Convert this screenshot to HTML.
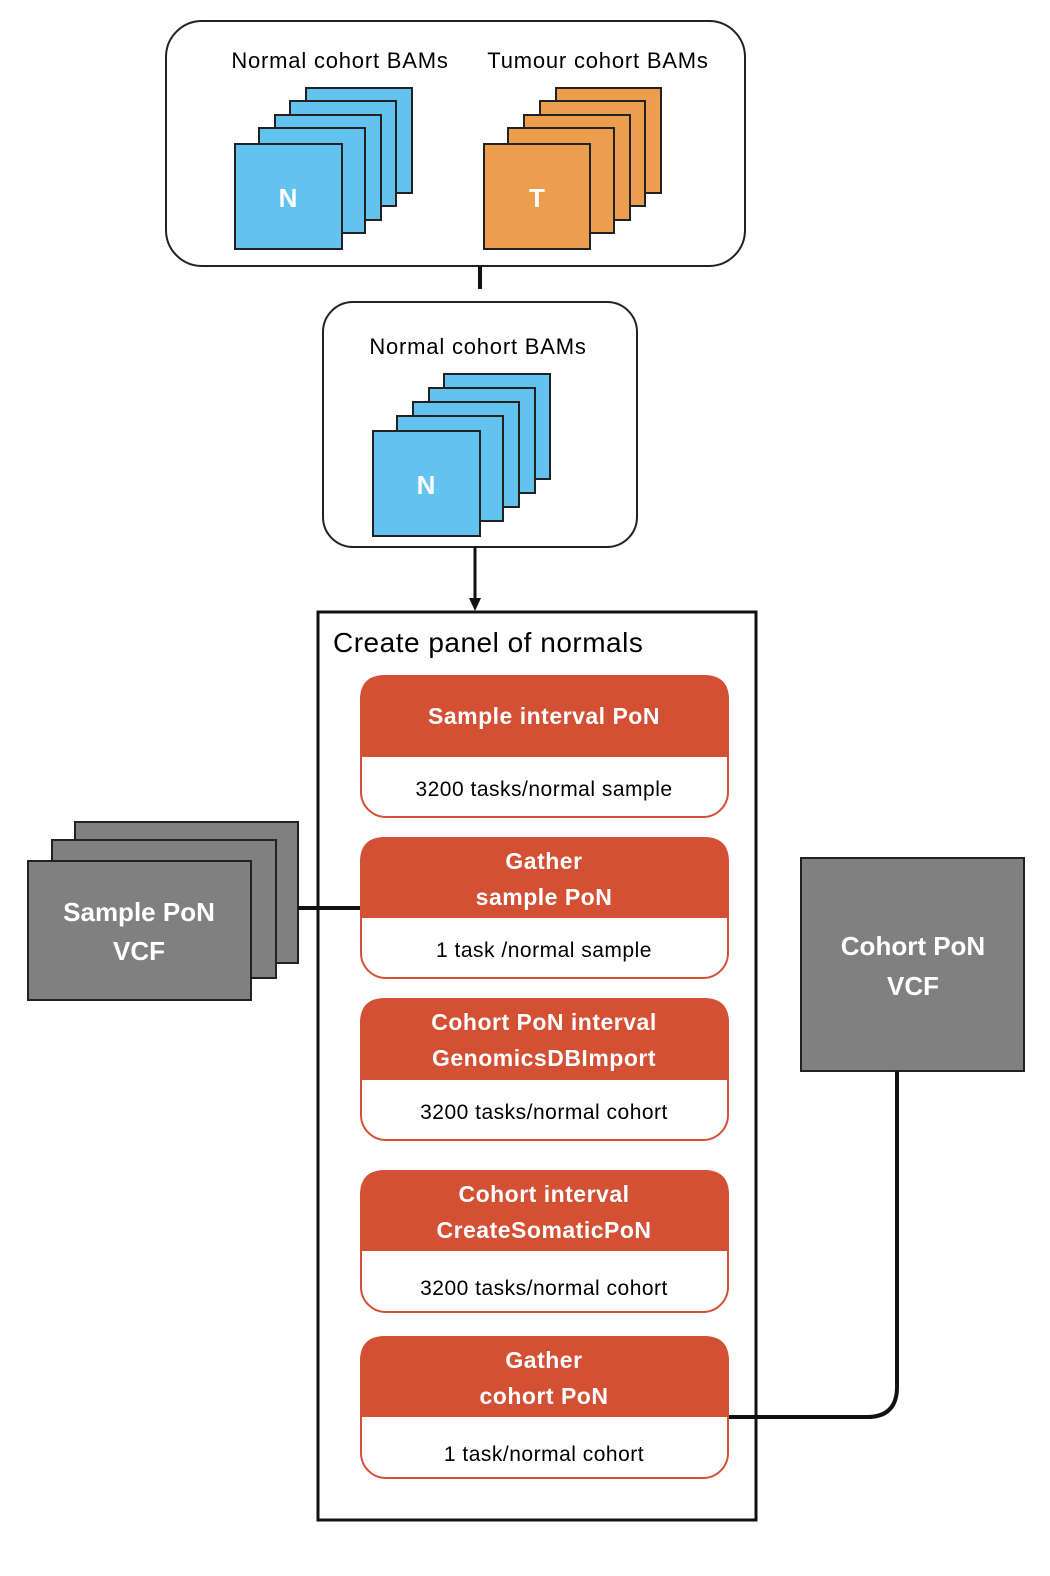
<!DOCTYPE html>
<html><head><style>body{margin:0;background:#fff}svg{display:block}text{font-family:"Liberation Sans",sans-serif}</style></head><body>
<svg width="1050" height="1576" viewBox="0 0 1050 1576" xmlns="http://www.w3.org/2000/svg">
<rect x="166" y="21" width="579" height="245" rx="36" fill="#fff" stroke="#222" stroke-width="2"/>
<text x="340" y="68" font-size="22" letter-spacing="0.8" text-anchor="middle">Normal cohort BAMs</text>
<text x="598" y="68" font-size="22" letter-spacing="0.8" text-anchor="middle">Tumour cohort BAMs</text>
<g fill="#63c3ee" stroke="#222" stroke-width="2">
<rect x="306" y="88" width="106" height="105"/><rect x="290" y="101" width="106" height="105"/><rect x="275" y="115" width="106" height="105"/><rect x="259" y="128" width="106" height="105"/><rect x="235" y="144" width="107" height="105"/>
</g>
<g fill="#eb9f4e" stroke="#222" stroke-width="2">
<rect x="556" y="88" width="105" height="105"/><rect x="540" y="101" width="105" height="105"/><rect x="524" y="115" width="106" height="105"/><rect x="508" y="128" width="106" height="105"/><rect x="484" y="144" width="106" height="105"/>
</g>
<text x="288" y="207" font-size="26" font-weight="bold" fill="#fff" text-anchor="middle">N</text>
<text x="537" y="207" font-size="26" font-weight="bold" fill="#fff" text-anchor="middle">T</text>
<line x1="480" y1="266" x2="480" y2="289" stroke="#111" stroke-width="4"/>
<rect x="323" y="302" width="314" height="245" rx="30" fill="#fff" stroke="#222" stroke-width="2"/>
<text x="478" y="354" font-size="22" letter-spacing="0.8" text-anchor="middle">Normal cohort BAMs</text>
<g fill="#63c3ee" stroke="#222" stroke-width="2">
<rect x="444" y="374" width="106" height="105"/><rect x="429" y="388" width="106" height="105"/><rect x="413" y="402" width="106" height="105"/><rect x="397" y="416" width="106" height="105"/><rect x="373" y="431" width="107" height="105"/>
</g>
<text x="426" y="494" font-size="26" font-weight="bold" fill="#fff" text-anchor="middle">N</text>
<line x1="475" y1="547" x2="475" y2="600" stroke="#111" stroke-width="3"/>
<polygon points="469,598 481,598 475,611" fill="#111"/>
<rect x="318" y="612" width="438" height="908" fill="#fff" stroke="#111" stroke-width="3"/>
<text x="333" y="652" font-size="28" letter-spacing="0.5">Create panel of normals</text>
<g fill="#808080" stroke="#222" stroke-width="2">
<rect x="75" y="822" width="223" height="141"/><rect x="52" y="840" width="224" height="138"/><rect x="28" y="861" width="223" height="139"/>
</g>
<text x="139" y="921" font-size="26" font-weight="bold" fill="#fff" text-anchor="middle">Sample PoN</text>
<text x="139" y="960" font-size="26" font-weight="bold" fill="#fff" text-anchor="middle">VCF</text>
<line x1="298" y1="908" x2="361" y2="908" stroke="#111" stroke-width="4"/>
<rect x="801" y="858" width="223" height="213" fill="#808080" stroke="#222" stroke-width="2"/>
<text x="913" y="955" font-size="26" font-weight="bold" fill="#fff" text-anchor="middle">Cohort PoN</text>
<text x="913" y="995" font-size="26" font-weight="bold" fill="#fff" text-anchor="middle">VCF</text>
<path d="M897,1071 V1387 Q897,1417 867,1417 H729" fill="none" stroke="#111" stroke-width="4"/>
<g font-size="21" letter-spacing="0.5">
<path d="M360,757 V700 Q360,675 385,675 H704 Q729,675 729,700 V757 Z" fill="#d35034"/>
<rect x="361" y="676" width="367" height="141" rx="25" fill="none" stroke="#d35034" stroke-width="2"/>
<text x="544" y="724" font-size="23" font-weight="bold" fill="#fff" text-anchor="middle">Sample interval PoN</text>
<text x="544" y="796" text-anchor="middle">3200 tasks/normal sample</text>

<path d="M360,918 V862 Q360,837 385,837 H704 Q729,837 729,862 V918 Z" fill="#d35034"/>
<rect x="361" y="838" width="367" height="140" rx="25" fill="none" stroke="#d35034" stroke-width="2"/>
<text x="544" y="869" font-size="23" font-weight="bold" fill="#fff" text-anchor="middle">Gather</text>
<text x="544" y="905" font-size="23" font-weight="bold" fill="#fff" text-anchor="middle">sample PoN</text>
<text x="544" y="957" text-anchor="middle">1 task /normal sample</text>

<path d="M360,1080 V1023 Q360,998 385,998 H704 Q729,998 729,1023 V1080 Z" fill="#d35034"/>
<rect x="361" y="999" width="367" height="141" rx="25" fill="none" stroke="#d35034" stroke-width="2"/>
<text x="544" y="1030" font-size="23" font-weight="bold" fill="#fff" text-anchor="middle">Cohort PoN interval</text>
<text x="544" y="1066" font-size="23" font-weight="bold" fill="#fff" text-anchor="middle">GenomicsDBImport</text>
<text x="544" y="1119" text-anchor="middle">3200 tasks/normal cohort</text>

<path d="M360,1251 V1195 Q360,1170 385,1170 H704 Q729,1170 729,1195 V1251 Z" fill="#d35034"/>
<rect x="361" y="1171" width="367" height="141" rx="25" fill="none" stroke="#d35034" stroke-width="2"/>
<text x="544" y="1202" font-size="23" font-weight="bold" fill="#fff" text-anchor="middle">Cohort interval</text>
<text x="544" y="1238" font-size="23" font-weight="bold" fill="#fff" text-anchor="middle">CreateSomaticPoN</text>
<text x="544" y="1295" text-anchor="middle">3200 tasks/normal cohort</text>

<path d="M360,1417 V1361 Q360,1336 385,1336 H704 Q729,1336 729,1361 V1417 Z" fill="#d35034"/>
<rect x="361" y="1337" width="367" height="141" rx="25" fill="none" stroke="#d35034" stroke-width="2"/>
<text x="544" y="1368" font-size="23" font-weight="bold" fill="#fff" text-anchor="middle">Gather</text>
<text x="544" y="1404" font-size="23" font-weight="bold" fill="#fff" text-anchor="middle">cohort PoN</text>
<text x="544" y="1461" text-anchor="middle">1 task/normal cohort</text>
</g>
</svg>
</body></html>
